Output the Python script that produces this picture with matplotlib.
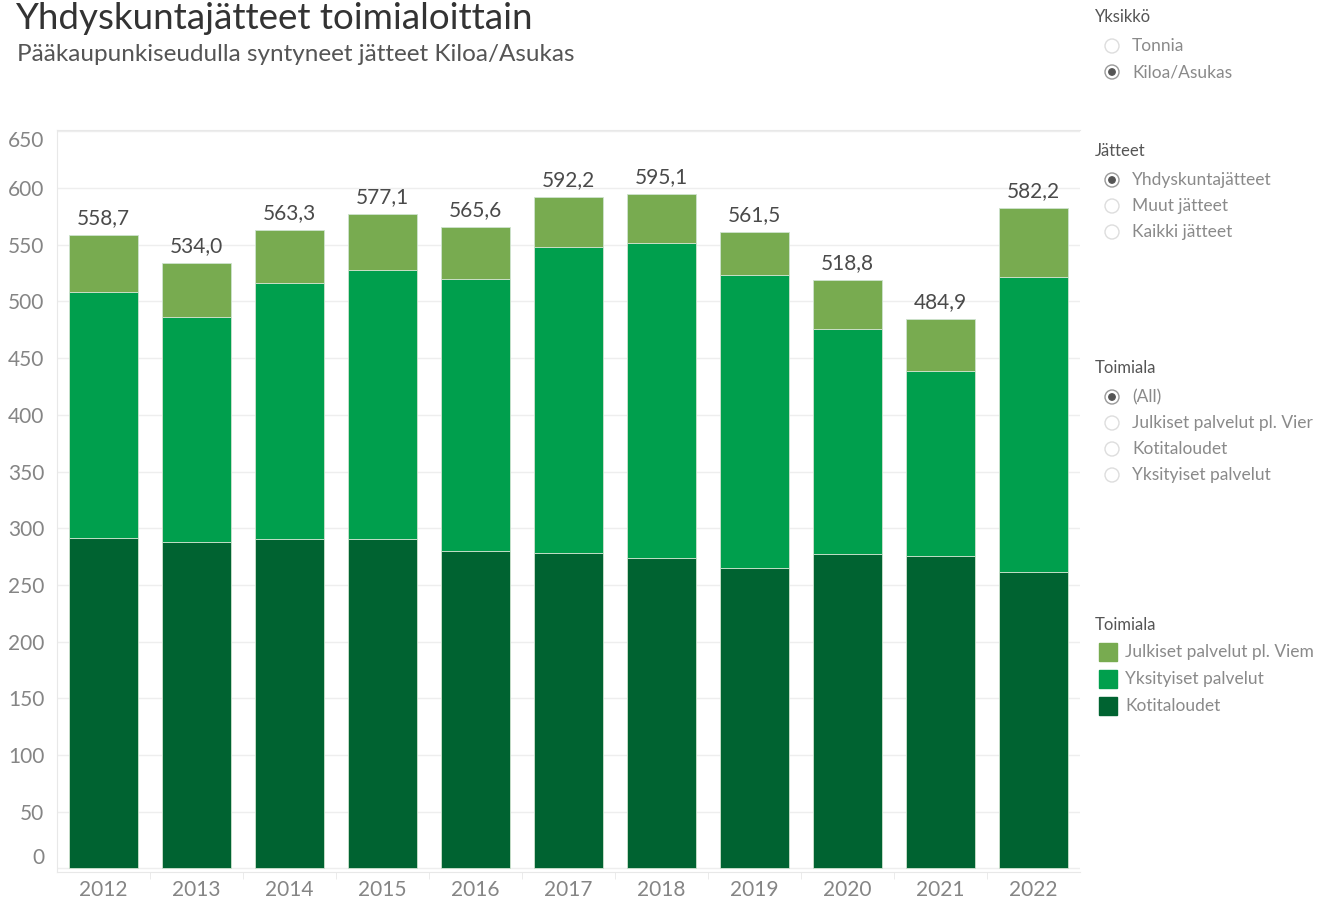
import matplotlib
matplotlib.use("Agg")
import matplotlib.pyplot as plt
import numpy as np
from matplotlib.patches import Circle, Rectangle

plt.rcParams["font.family"] = ["Lato", "DejaVu Sans"]

# data (kg / asukas)
years = ["2012", "2013", "2014", "2015", "2016", "2017",
         "2018", "2019", "2020", "2021", "2022"]
kotitaloudet = [291.4, 288.2, 290.3, 290.3, 280.2, 278.2,
                273.8, 264.7, 277.1, 275.8, 261.5]
yksityiset = [217.0, 198.4, 226.3, 237.2, 239.4, 269.9,
              277.5, 258.7, 198.4, 162.6, 260.1]
julkiset = [50.3, 47.4, 46.7, 49.6, 46.0, 44.1,
            43.8, 38.1, 43.3, 46.5, 60.6]

legend_labels = ["Julkiset palvelut pl. Viem", "Yksityiset palvelut", "Kotitaloudet"]
c_julk, c_yks, c_koti = "#78AB50", "#009F4D", "#006331"

W, H = 1322, 902
fig = plt.figure(figsize=(W / 100, H / 100), dpi=100)
ax = fig.add_axes([57 / W, 30 / H, (1080 - 57) / W, (872 - 130) / H])

x = np.arange(len(years))
koti = np.array(kotitaloudet)
yks = np.array(yksityiset)
julk = np.array(julkiset)
bw = 0.75
edge = dict(edgecolor="#cfe3cf", linewidth=0.6)
ax.bar(x, koti, bw, color=c_koti, **edge)
ax.bar(x, yks, bw, bottom=koti, color=c_yks, **edge)
ax.bar(x, julk, bw, bottom=koti + yks, color=c_julk, **edge)

totals = koti + yks + julk
for xi, t in zip(x, totals):
    ax.annotate(f"{t:.1f}".replace(".", ","), (xi, t), xytext=(0, 5),
                textcoords="offset points", ha="center", va="bottom",
                fontsize=15, color="#4a4a4a")

ax.set_xlim(-0.5, len(years) - 0.5)
ax.set_ylim(-3.1, 651.2)
ax.set_yticks(range(0, 651, 50))
ax.set_xticks(x, years)
ax.set_xticks(x[:-1] + 0.5, minor=True)
ax.grid(axis="y", color="#eeeeee", linewidth=1)
ax.set_axisbelow(True)
for side in ["left", "bottom", "top"]:
    ax.spines[side].set_color("#e8e8e8")
ax.spines["right"].set_visible(False)
ax.tick_params(axis="both", which="major", length=0, labelsize=15, colors="#858585")
ax.tick_params(axis="y", pad=9)
ax.tick_params(axis="x", pad=6)
ax.tick_params(axis="x", which="minor", length=5, color="#e8e8e8")
# keep the first and last y labels inside the plot area
ylabels = ax.get_yticklabels()
ylabels[0].set_va("bottom")
ylabels[-1].set_va("top")

# overlay in pixel coordinates for titles and side panel
ov = fig.add_axes([0, 0, 1, 1])
ov.set_xlim(0, W)
ov.set_ylim(H, 0)
ov.axis("off")

ov.text(15, 29, "Yhdyskuntajätteet toimialoittain", fontsize=26.5,
        color="#333333", va="baseline")
ov.text(17, 61, "Pääkaupunkiseudulla syntyneet jätteet Kiloa/Asukas",
        fontsize=17.5, color="#555555", va="baseline")


def heading(y, text):
    ov.text(1095, y, text, fontsize=12, color="#555555", va="center")


def radio(y, text, selected=False):
    ov.add_patch(Circle((1112, y), 7, facecolor="white",
                        edgecolor="#999999" if selected else "#dddddd", linewidth=1))
    if selected:
        ov.add_patch(Circle((1112, y), 3.2, color="#555555"))
    ov.text(1132, y, text, fontsize=12.5, color="#8a8a8a", va="center")


heading(17, "Yksikkö")
radio(46, "Tonnia")
radio(72, "Kiloa/Asukas", True)

heading(151, "Jätteet")
radio(180, "Yhdyskuntajätteet", True)
radio(206, "Muut jätteet")
radio(232, "Kaikki jätteet")

heading(368, "Toimiala")
radio(397, "(All)", True)
radio(423, "Julkiset palvelut pl. Vier")
radio(449, "Kotitaloudet")
radio(475, "Yksityiset palvelut")

heading(625, "Toimiala")
for y, lab, col in zip([652, 679, 706], legend_labels, [c_julk, c_yks, c_koti]):
    ov.add_patch(Rectangle((1099, y - 9), 18, 18, color=col))
    ov.text(1125, y, lab, fontsize=12.5, color="#8a8a8a", va="center")

fig.savefig("out.png", dpi=100)
